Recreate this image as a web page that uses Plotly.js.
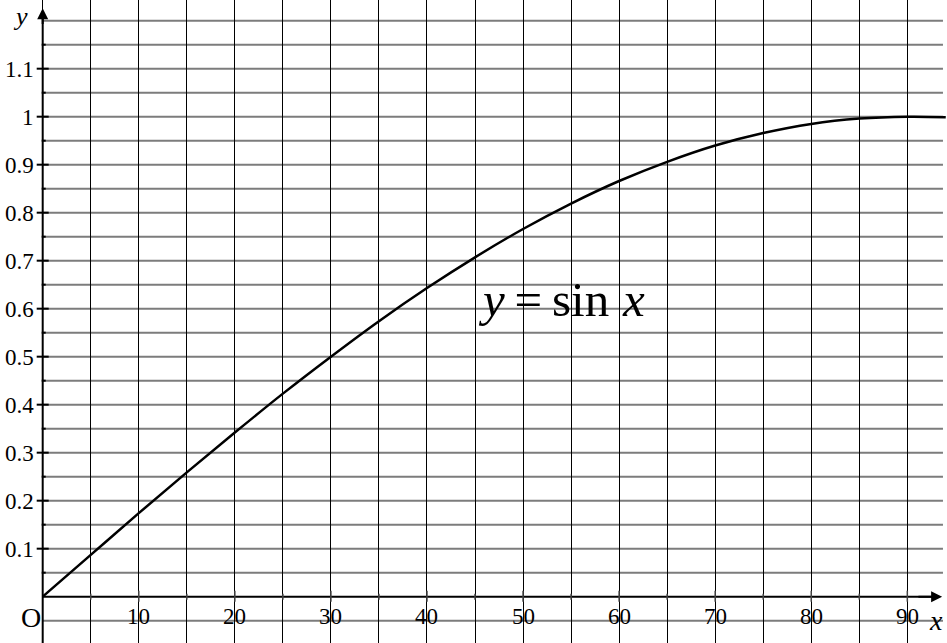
<!DOCTYPE html>
<html>
<head>
<meta charset="utf-8">
<script src="https://cdn.plot.ly/plotly-3.0.1.min.js"></script>
<style>
  html, body { margin: 0; padding: 0; background: #fff; }
  #chart { width: 947px; height: 643px; }
</style>
</head>
<body>
<div id="chart"></div>
<script>
// Angle in degrees and the value of sin x read at each point of the curve
const angles = [0, 5, 10, 15, 20, 25, 30, 35, 40, 45, 50, 55, 60, 65, 70, 75, 80, 85, 90, 94];
const sineValues = [0, 0.087, 0.174, 0.259, 0.342, 0.423, 0.5, 0.574, 0.643, 0.707,
                    0.766, 0.819, 0.866, 0.906, 0.94, 0.966, 0.985, 0.996, 1, 0.999];

// Axis labels
const xTickValues = [10, 20, 30, 40, 50, 60, 70, 80, 90];
const xTickLabels = ['10', '20', '30', '40', '50', '60', '70', '80', '90'];
const yTickValues = [0.1, 0.2, 0.3, 0.4, 0.5, 0.6, 0.7, 0.8, 0.9, 1, 1.1];
const yTickLabels = ['0.1', '0.2', '0.3', '0.4', '0.5', '0.6', '0.7', '0.8', '0.9', '1', '1.1'];
const curveLabel = '<i>y</i>\u2009=\u2009sin\u2009\u200A<i>x</i>';

const SERIF = 'Liberation Serif, DejaVu Serif, serif';
const X_RANGE = [-4.445, 94.13];
const Y_RANGE = [-0.0965, 1.2431];
const X_GRID_END = 93.71;
const Y_STEP = 0.05;

const shapes = [];
const annotations = [];

// horizontal grid every 0.05 from -0.05 up to 1.2, starting at the y axis
for (let k = -1; k <= 24; k++) {
  if (k === 0) continue;
  const yv = +(k * Y_STEP).toFixed(2);
  shapes.push({
    type: 'line', layer: 'below', xref: 'x', yref: 'y',
    x0: 0, x1: X_GRID_END, y0: yv, y1: yv,
    line: { color: '#7c7c7c', width: 2 }
  });
}

// axis lines
shapes.push({ type: 'line', xref: 'x', yref: 'y', x0: 0, x1: 93.0, y0: 0, y1: 0,
              line: { color: '#000', width: 2 } });
shapes.push({ type: 'line', xref: 'x', yref: 'y', x0: 0, x1: 0, y0: Y_RANGE[0], y1: 1.21,
              line: { color: '#000', width: 2 } });

// tick marks on the y axis: long at 0.1 steps, short halfway between
for (let k = 1; k <= 23; k++) {
  const yv = +(k * Y_STEP).toFixed(2);
  const major = k % 2 === 0;
  shapes.push({
    type: 'line', xref: 'x', yref: 'y', xsizemode: 'pixel', xanchor: 0,
    x0: major ? -6 : -1, x1: major ? 6 : 3, y0: yv, y1: yv,
    line: { color: '#000', width: 2 }
  });
}
// tick marks on the x axis
for (let k = 1; k <= 18; k++) {
  const xv = k * 5;
  const major = k % 2 === 0;
  shapes.push({
    type: 'line', xref: 'x', yref: 'y', ysizemode: 'pixel', yanchor: 0,
    x0: xv, x1: xv, y0: major ? -5 : -3, y1: major ? 6 : 3,
    line: { color: '#444', width: 1.5 }
  });
}

// arrow heads
annotations.push({ x: 93.62, y: 0, ax: 91, ay: 0, xref: 'x', yref: 'y', axref: 'x', ayref: 'y',
                   text: '', showarrow: true, arrowhead: 2, arrowsize: 1.1, arrowwidth: 2, arrowcolor: '#000' });
annotations.push({ x: 0, y: 1.226, ax: 0, ay: 1.19, xref: 'x', yref: 'y', axref: 'x', ayref: 'y',
                   text: '', showarrow: true, arrowhead: 2, arrowsize: 1.1, arrowwidth: 2, arrowcolor: '#000' });

// tick labels
xTickValues.forEach((v, i) => {
  annotations.push({ x: v, y: 0, xref: 'x', yref: 'y', text: xTickLabels[i], showarrow: false,
                     yanchor: 'middle', yshift: -20, font: { family: SERIF, size: 23, color: '#000' } });
});
yTickValues.forEach((v, i) => {
  annotations.push({ x: 0, y: v, xref: 'x', yref: 'y', text: yTickLabels[i], showarrow: false,
                     xanchor: 'right', xshift: -7, yanchor: 'middle', yshift: -1,
                     font: { family: SERIF, size: 23, color: '#000' } });
});
// origin
annotations.push({ x: 0, y: 0, xref: 'x', yref: 'y', text: 'O', showarrow: false,
                   xanchor: 'right', xshift: 0, yanchor: 'middle', yshift: -21,
                   font: { family: SERIF, size: 28, color: '#000' } });
// axis names
annotations.push({ x: -2.3, y: Y_RANGE[1], xref: 'x', yref: 'y', text: '<i>y</i>', showarrow: false,
                   yanchor: 'top', font: { family: SERIF, size: 26, color: '#000' } });
annotations.push({ x: 93.0, y: -0.049, xref: 'x', yref: 'y', text: '<i>x</i>', showarrow: false,
                   font: { family: SERIF, size: 28, color: '#000' } });
// curve name
annotations.push({ x: 54.0, y: 0.620, xref: 'x', yref: 'y', text: curveLabel, showarrow: false,
                   font: { family: SERIF, size: 49, color: '#000' } });

const trace = {
  x: angles, y: sineValues, type: 'scatter', mode: 'lines',
  line: { color: '#000', width: 2.5, shape: 'spline', smoothing: 1 },
  hoverinfo: 'skip'
};

const layout = {
  width: 947, height: 643,
  margin: { l: 0, r: 0, t: 0, b: 0 },
  paper_bgcolor: '#fff', plot_bgcolor: '#fff',
  showlegend: false,
  xaxis: { range: X_RANGE, showgrid: true, tick0: 0, dtick: 5, gridcolor: '#000', gridwidth: 1,
           zeroline: false, showticklabels: false, showline: false, ticks: '' },
  yaxis: { range: Y_RANGE, showgrid: false, zeroline: false, showticklabels: false,
           showline: false, ticks: '' },
  shapes: shapes,
  annotations: annotations
};

Plotly.newPlot('chart', [trace], layout, { staticPlot: true, displayModeBar: false });
</script>
</body>
</html>
